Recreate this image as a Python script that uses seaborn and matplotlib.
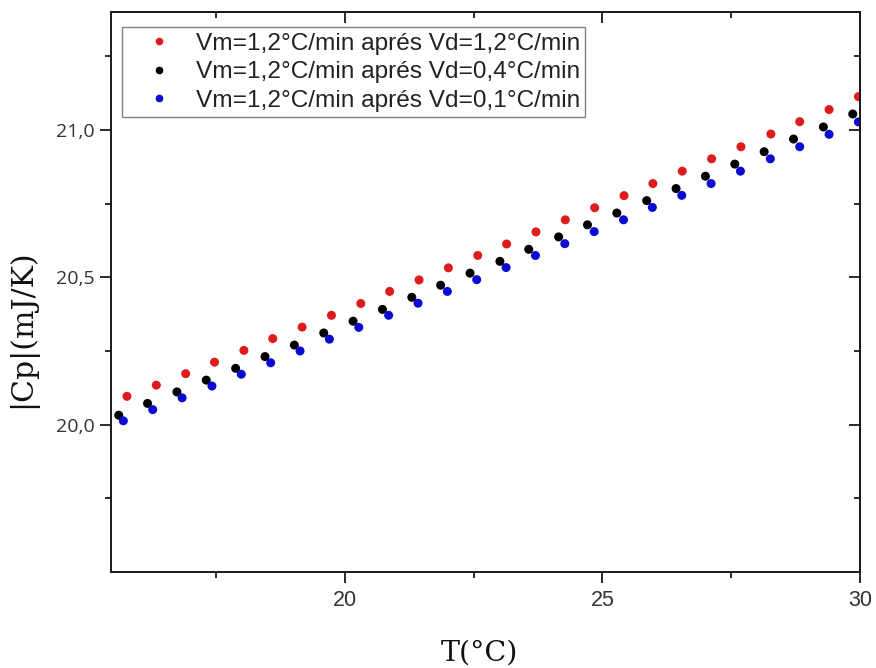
import numpy as np
import pandas as pd
import seaborn as sns
import matplotlib.pyplot as plt
from matplotlib.ticker import FixedLocator, FuncFormatter

# --- DATA ---
labels = [
    "Vm=1,2°C/min aprés Vd=1,2°C/min",
    "Vm=1,2°C/min aprés Vd=0,4°C/min",
    "Vm=1,2°C/min aprés Vd=0,1°C/min",
]
colors = ["#e01b1b", "#000000", "#0a0ad2"]

t_red = [15.77, 16.34, 16.91, 17.47, 18.04, 18.60, 19.17, 19.74, 20.31, 20.87,
         21.44, 22.01, 22.58, 23.14, 23.71, 24.28, 24.85, 25.42, 25.98, 26.55,
         27.12, 27.69, 28.27, 28.83, 29.40, 29.97]
cp_red = [20.096, 20.134, 20.173, 20.212, 20.252, 20.292, 20.331, 20.371, 20.411, 20.452,
          20.491, 20.532, 20.574, 20.613, 20.654, 20.695, 20.736, 20.777, 20.818, 20.860,
          20.902, 20.943, 20.986, 21.028, 21.069, 21.113]

t_black = [15.61, 16.17, 16.74, 17.31, 17.88, 18.45, 19.02, 19.59, 20.16, 20.73,
           21.30, 21.86, 22.43, 23.01, 23.57, 24.15, 24.71, 25.28, 25.86, 26.43,
           27.00, 27.57, 28.14, 28.71, 29.29, 29.86]
cp_black = [20.032, 20.072, 20.111, 20.151, 20.191, 20.231, 20.270, 20.311, 20.351, 20.391,
            20.432, 20.473, 20.514, 20.554, 20.595, 20.637, 20.678, 20.718, 20.760, 20.801,
            20.843, 20.884, 20.926, 20.969, 21.010, 21.054]

t_blue = [15.70, 16.27, 16.84, 17.42, 17.99, 18.56, 19.13, 19.70, 20.27, 20.85,
          21.42, 21.99, 22.56, 23.13, 23.70, 24.27, 24.84, 25.41, 25.97, 26.54,
          27.11, 27.68, 28.26, 28.83, 29.40, 29.97]
cp_blue = [20.013, 20.051, 20.091, 20.131, 20.171, 20.210, 20.250, 20.290, 20.330, 20.371,
           20.412, 20.452, 20.492, 20.533, 20.574, 20.614, 20.655, 20.695, 20.737, 20.778,
           20.818, 20.860, 20.902, 20.943, 20.985, 21.027]

x_major = [20, 25, 30]
x_minor = [17.5, 22.5, 27.5]
y_major = [20.0, 20.5, 21.0]
y_minor = [19.75, 20.25, 20.75, 21.25]

# --- DATAFRAME ---
df = pd.concat([
    pd.DataFrame({"T": t_red, "Cp": cp_red, "serie": labels[0]}),
    pd.DataFrame({"T": t_black, "Cp": cp_black, "serie": labels[1]}),
    pd.DataFrame({"T": t_blue, "Cp": cp_blue, "serie": labels[2]}),
], ignore_index=True)

# --- PLOT ---
sns.set_theme(style="white")
plt.rcParams["font.family"] = ["Open Sans", "DejaVu Sans"]

fig = plt.figure(figsize=(8.76, 6.68), dpi=100)
ax = fig.add_axes([0.1267, 0.1437, 0.855, 0.8383])

sns.scatterplot(data=df, x="T", y="Cp", hue="serie", hue_order=labels,
                palette=dict(zip(labels, colors)), s=42, linewidth=0, ax=ax)

ax.set_xlim(15.46, 30.0)
ax.set_ylim(19.5, 21.4)

ax.xaxis.set_major_locator(FixedLocator(x_major))
ax.xaxis.set_minor_locator(FixedLocator(x_minor))
ax.yaxis.set_major_locator(FixedLocator(y_major))
ax.yaxis.set_minor_locator(FixedLocator(y_minor))
ax.yaxis.set_major_formatter(FuncFormatter(lambda v, p: f"{v:.1f}".replace(".", ",")))

for sp in ax.spines.values():
    sp.set_linewidth(1.4)
    sp.set_color("#1a1a1a")

# bottom and left ticks point outward
ax.tick_params(which="both", direction="out", bottom=True, left=True, top=False, right=False,
               color="#1a1a1a", width=1.3, labelcolor="#333333")
ax.tick_params(which="major", length=8)
ax.tick_params(which="minor", length=4.5)
ax.tick_params(axis="x", labelsize=15.5, pad=5)
ax.tick_params(axis="y", labelsize=14, pad=4)
for lab in ax.get_xticklabels():
    lab.set_fontfamily(["Liberation Sans"])

# top and right ticks point inward
top = ax.secondary_xaxis("top")
top.xaxis.set_major_locator(FixedLocator(x_major))
top.xaxis.set_minor_locator(FixedLocator(x_minor))
top.tick_params(which="both", direction="in", top=True, labeltop=False, color="#1a1a1a", width=1.3)
top.tick_params(which="major", length=8)
top.tick_params(which="minor", length=4.5)
top.spines["top"].set_linewidth(1.4)

right = ax.secondary_yaxis("right")
right.yaxis.set_major_locator(FixedLocator(y_major))
right.yaxis.set_minor_locator(FixedLocator(y_minor))
right.tick_params(which="both", direction="in", right=True, labelright=False, color="#1a1a1a", width=1.3)
right.tick_params(which="major", length=8)
right.tick_params(which="minor", length=4.5)
right.spines["right"].set_linewidth(1.4)

ax.set_xlabel("T(°C)", family="DejaVu Serif", fontsize=20.5, color="#111111")
ax.set_ylabel("|Cp|(mJ/K)", family="DejaVu Serif", fontsize=21.5, color="#111111")
ax.xaxis.set_label_coords(0.492, -0.12)
ax.yaxis.set_label_coords(-0.099, 0.435)

handles, labs = ax.get_legend_handles_labels()
leg = ax.legend(handles, labs, loc="upper left", bbox_to_anchor=(0.0147, 0.973),
                borderaxespad=0, frameon=True, fancybox=False, framealpha=1,
                edgecolor="#808080", prop={"family": "Liberation Sans", "size": 17.6},
                labelspacing=0.27, handlelength=2.6, handletextpad=0.2,
                borderpad=0.22, markerscale=0.85)
leg.get_frame().set_linewidth(1.0)
for txt in leg.get_texts():
    txt.set_color("#222222")

fig.savefig("out.png", dpi=100)
